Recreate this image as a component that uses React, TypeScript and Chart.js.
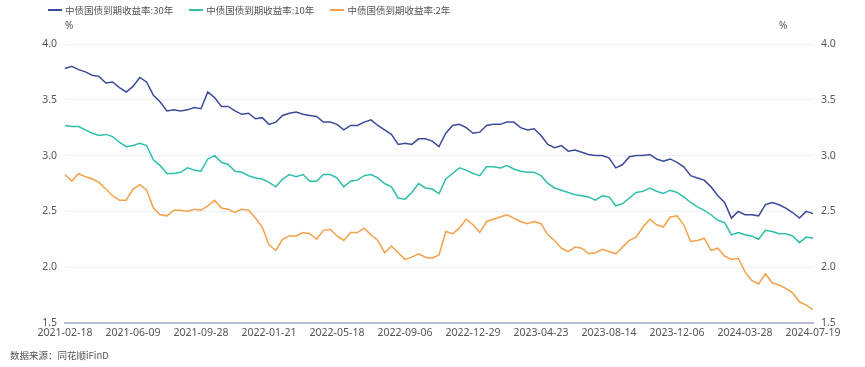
import React, { useEffect, useRef } from "react";
import { Chart, registerables } from "chart.js";

Chart.register(...registerables);

const tickLabels = [
  "2021-02-18", "2021-06-09", "2021-09-28", "2022-01-21", "2022-05-18", "2022-09-06",
  "2022-12-29", "2023-04-23", "2023-08-14", "2023-12-06", "2024-03-28", "2024-07-19",
];
const pointsPerTick = 10;

const seriesNames = ["中债国债到期收益率:30年", "中债国债到期收益率:10年", "中债国债到期收益率:2年"];
const seriesColors = ["#3c4a9a", "#2fbfac", "#f5a04a"];

const y30 = [
  3.78, 3.80, 3.77, 3.75, 3.72, 3.71, 3.65, 3.66, 3.61, 3.57,
  3.62, 3.70, 3.66, 3.54, 3.48, 3.40, 3.41, 3.40, 3.41, 3.43,
  3.42, 3.57, 3.52, 3.44, 3.44, 3.40, 3.37, 3.38, 3.33, 3.34,
  3.28, 3.30, 3.36, 3.38, 3.39, 3.37, 3.36, 3.35, 3.30, 3.30,
  3.28, 3.23, 3.27, 3.27, 3.30, 3.32, 3.27, 3.23, 3.19, 3.10,
  3.11, 3.10, 3.15, 3.15, 3.13, 3.08, 3.20, 3.27, 3.28, 3.25,
  3.20, 3.21, 3.27, 3.28, 3.28, 3.30, 3.30, 3.25, 3.23, 3.24,
  3.18, 3.10, 3.07, 3.09, 3.04, 3.05, 3.03, 3.01, 3.00, 3.00,
  2.98, 2.89, 2.92, 2.99, 3.00, 3.00, 3.01, 2.97, 2.95, 2.97,
  2.94, 2.90, 2.82, 2.80, 2.78, 2.72, 2.64, 2.58, 2.44, 2.50,
  2.47, 2.47, 2.46, 2.56, 2.58, 2.56, 2.53, 2.49, 2.44, 2.50,
  2.48,
];
const y10 = [
  3.27, 3.26, 3.26, 3.23, 3.20, 3.18, 3.19, 3.17, 3.12, 3.08,
  3.09, 3.11, 3.09, 2.96, 2.91, 2.84, 2.84, 2.85, 2.89, 2.87,
  2.86, 2.97, 3.00, 2.94, 2.92, 2.86, 2.85, 2.82, 2.80, 2.79,
  2.76, 2.72, 2.79, 2.83, 2.81, 2.83, 2.77, 2.77, 2.83, 2.83,
  2.80, 2.72, 2.77, 2.78, 2.82, 2.83, 2.80, 2.75, 2.72, 2.62,
  2.61, 2.67, 2.75, 2.71, 2.70, 2.66, 2.79, 2.84, 2.89, 2.87,
  2.84, 2.82, 2.90, 2.90, 2.89, 2.91, 2.88, 2.86, 2.85, 2.85,
  2.82, 2.75, 2.71, 2.69, 2.67, 2.65, 2.64, 2.63, 2.60, 2.64,
  2.63, 2.55, 2.57, 2.62, 2.67, 2.68, 2.71, 2.68, 2.66, 2.69,
  2.67, 2.63, 2.58, 2.54, 2.51, 2.47, 2.42, 2.40, 2.29, 2.31,
  2.29, 2.28, 2.25, 2.33, 2.32, 2.30, 2.30, 2.28, 2.22, 2.27,
  2.26,
];
const y2 = [
  2.83, 2.77, 2.84, 2.81, 2.79, 2.76, 2.70, 2.64, 2.60, 2.60,
  2.70, 2.74, 2.69, 2.53, 2.47, 2.46, 2.51, 2.51, 2.50, 2.52,
  2.51, 2.55, 2.60, 2.53, 2.52, 2.49, 2.52, 2.51, 2.44, 2.36,
  2.20, 2.15, 2.25, 2.28, 2.28, 2.31, 2.30, 2.25, 2.33, 2.34,
  2.28, 2.24, 2.31, 2.31, 2.35, 2.29, 2.24, 2.13, 2.19, 2.13,
  2.07, 2.09, 2.12, 2.09, 2.08, 2.11, 2.32, 2.30, 2.35, 2.43,
  2.38, 2.31, 2.41, 2.43, 2.45, 2.47, 2.44, 2.41, 2.39, 2.41,
  2.39, 2.29, 2.24, 2.17, 2.14, 2.18, 2.17, 2.12, 2.13, 2.16,
  2.14, 2.12, 2.18, 2.24, 2.27, 2.36, 2.43, 2.38, 2.36, 2.45,
  2.46, 2.38, 2.23, 2.24, 2.26, 2.15, 2.17, 2.10, 2.07, 2.08,
  1.96, 1.88, 1.85, 1.94, 1.86, 1.84, 1.81, 1.77, 1.69, 1.66,
  1.62,
];

const yMin = 1.5;
const yMax = 4.0;
const yStep = 0.5;
const unitLabel = "%";
const sourceText = "数据来源：同花顺iFinD";

const FONT = "'Noto Sans', 'Noto Sans CJK SC', sans-serif";
const CJK_FONT = "'Noto Sans CJK SC', 'Noto Sans', sans-serif";

export default function App() {
  const canvasRef = useRef<HTMLCanvasElement | null>(null);

  useEffect(() => {
    const canvas = canvasRef.current;
    if (!canvas) return;
    const labels = y30.map((_, i) => (i % pointsPerTick === 0 ? tickLabels[i / pointsPerTick] : ""));
    const allSeries = [y30, y10, y2];
    const chart = new Chart(canvas, {
      type: "line",
      data: {
        labels,
        datasets: allSeries.map((d, k) => ({
          label: seriesNames[k],
          data: d,
          borderColor: seriesColors[k],
          backgroundColor: seriesColors[k],
          borderWidth: 1.5,
          pointRadius: 0,
          tension: 0,
          yAxisID: "y",
        })),
      },
      options: {
        responsive: false,
        animation: false,
        devicePixelRatio: 1,
        layout: { padding: { top: 44, left: 0, right: 0, bottom: 0 } },
        plugins: {
          legend: { display: false },
          tooltip: { enabled: false },
        },
        scales: {
          x: {
            grid: { display: false, drawTicks: false },
            border: { display: true, color: "#b7bdd6", width: 2 },
            ticks: {
              autoSkip: false,
              maxRotation: 0,
              minRotation: 0,
              padding: 4,
              color: "#555",
              font: { family: FONT, size: 10.5 },
            },
            afterFit: (s: any) => {
              s.height = 44;
            },
          },
          y: {
            position: "left",
            min: yMin,
            max: yMax,
            grid: { color: "#eef0f7", lineWidth: 1, drawTicks: false },
            border: { display: false },
            ticks: {
              stepSize: yStep,
              padding: 8,
              color: "#555",
              font: { family: FONT, size: 10.5 },
              callback: (v: any) => Number(v).toFixed(1),
            },
            afterFit: (s: any) => {
              s.width = 65;
            },
          },
          y1: {
            position: "right",
            display: true,
            min: yMin,
            max: yMax,
            grid: { display: false, drawTicks: false },
            border: { display: false },
            ticks: {
              stepSize: yStep,
              padding: 8,
              color: "#555",
              font: { family: FONT, size: 10.5 },
              callback: (v: any) => Number(v).toFixed(1),
            },
            afterFit: (s: any) => {
              s.width = 52;
            },
          },
        },
      },
    });
    return () => chart.destroy();
  }, []);

  const textStyle: React.CSSProperties = {
    fontFamily: CJK_FONT,
    fontSize: 9.5,
    color: "#555",
    whiteSpace: "nowrap",
    lineHeight: "12px",
  };

  return (
    <div style={{ position: "absolute", left: 0, top: 0, width: 865, height: 367, background: "#fff" }}>
      <canvas ref={canvasRef} width={865} height={367} style={{ position: "absolute", left: 0, top: 0 }} />
      <div style={{ position: "absolute", left: 48, top: 4, display: "flex", alignItems: "center", gap: 16 }}>
        {seriesNames.map((n, k) => (
          <div key={n} style={{ display: "flex", alignItems: "center", gap: 3 }}>
            <div style={{ width: 14, height: 2, background: seriesColors[k] }} />
            <span style={textStyle}>{n}</span>
          </div>
        ))}
      </div>
      <div style={{ ...textStyle, position: "absolute", left: 65, top: 19, fontFamily: FONT, fontSize: 10 }}>{unitLabel}</div>
      <div style={{ ...textStyle, position: "absolute", left: 779, top: 19, fontFamily: FONT, fontSize: 10 }}>{unitLabel}</div>
      <div style={{ ...textStyle, position: "absolute", left: 10, top: 349 }}>{sourceText}</div>
    </div>
  );
}
